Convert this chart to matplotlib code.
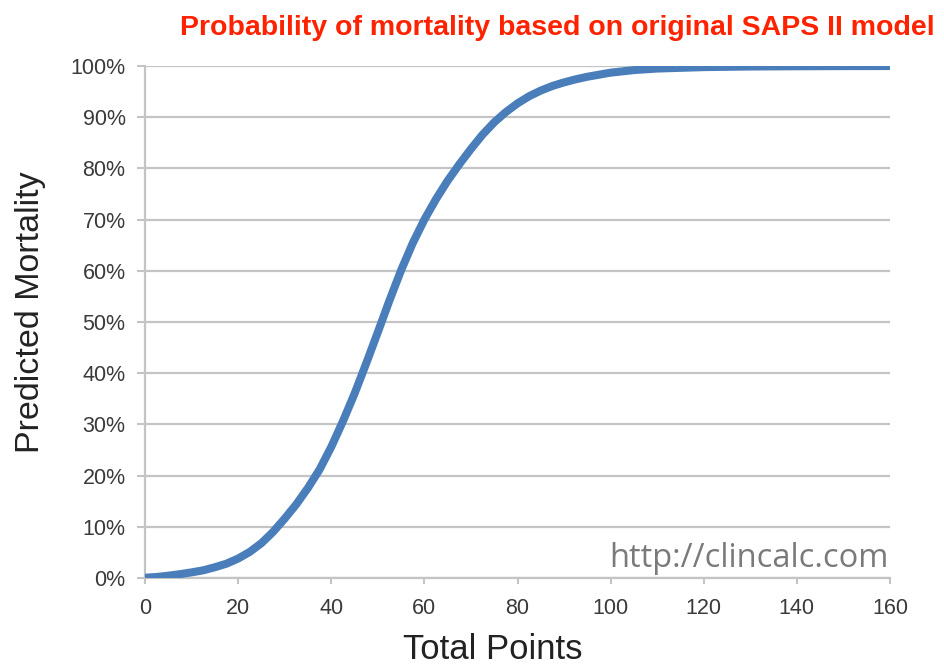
import matplotlib
matplotlib.use("Agg")
import matplotlib.pyplot as plt
from matplotlib.ticker import FuncFormatter

# Data
total_points = [0, 2.5, 5, 7.5, 10, 12.5, 15, 17.5, 20, 22.5, 25, 27.5, 30, 32.5, 35,
                37.5, 40, 42.5, 45, 47.5, 50, 52.5, 55, 57.5, 60, 62.5, 65, 67.5, 70,
                72.5, 75, 77.5, 80, 82.5, 85, 87.5, 90, 92.5, 95, 97.5, 100, 105, 110,
                120, 130, 140, 150, 160]
mortality_pct = [0.05, 0.2, 0.45, 0.75, 1.1, 1.5, 2.1, 2.8, 3.8, 5.1, 6.8, 9.0, 11.6,
                 14.4, 17.6, 21.2, 25.6, 30.6, 36.0, 41.9, 48.0, 54.2, 60.1, 65.4,
                 70.0, 74.0, 77.6, 80.8, 83.8, 86.6, 89.0, 91.0, 92.7, 94.1, 95.2,
                 96.1, 96.8, 97.4, 97.9, 98.3, 98.7, 99.2, 99.5, 99.78, 99.9, 99.95,
                 99.98, 99.99]
x_ticks = [0, 20, 40, 60, 80, 100, 120, 140, 160]
y_ticks = [0, 10, 20, 30, 40, 50, 60, 70, 80, 90, 100]

plt.rcParams['font.family'] = ['Liberation Sans', 'DejaVu Sans']

fig = plt.figure(figsize=(9.44, 6.67), dpi=100)
ax = fig.add_axes([145/944, 1-578/667, (890-145)/944, (578-66)/667])

grid_c = '#c4c4c4'
ax.plot(total_points, mortality_pct, color='#4a7ebb', lw=5.8, solid_capstyle='round',
        solid_joinstyle='round', zorder=3)

ax.set_xlim(0, 160)
ax.set_ylim(0, 100)
ax.set_xticks(x_ticks)
ax.set_yticks(y_ticks)
ax.yaxis.set_major_formatter(FuncFormatter(lambda v, p: f"{int(v)}%"))
ax.grid(axis='y', color=grid_c, lw=1.6, zorder=0)
ax.set_axisbelow(True)

for s in ['top', 'right']:
    ax.spines[s].set_visible(False)
for s in ['left', 'bottom']:
    ax.spines[s].set_color(grid_c)
    ax.spines[s].set_linewidth(1.6)

ax.tick_params(axis='both', colors=grid_c, width=1.5,
               labelcolor='#3a3a3a', labelsize=15.5)
ax.tick_params(axis='y', length=6, pad=8)
ax.tick_params(axis='x', length=4.5, pad=10)

ax.set_xlabel('Total Points', fontsize=25, color='#222222')
ax.set_ylabel('Predicted Mortality', fontsize=24.5, color='#222222')
ax.xaxis.set_label_coords((493-145)/745, 1-(633-66)/512)
ax.yaxis.set_label_coords((46-145)/745, (578-312)/512)

ax.text(0.998, 1-(567-66)/(578-66), 'http://clincalc.com', transform=ax.transAxes,
        ha='right', va='baseline', fontsize=23.5, color='#7a7a7a',
        family=['Open Sans', 'DejaVu Sans'])

fig.text(935/944, 1-35/667, 'Probability of mortality based on original SAPS II model',
         ha='right', va='baseline', fontsize=20.5, fontweight='bold', color='#ff2200')

fig.savefig('out.png', dpi=100)
